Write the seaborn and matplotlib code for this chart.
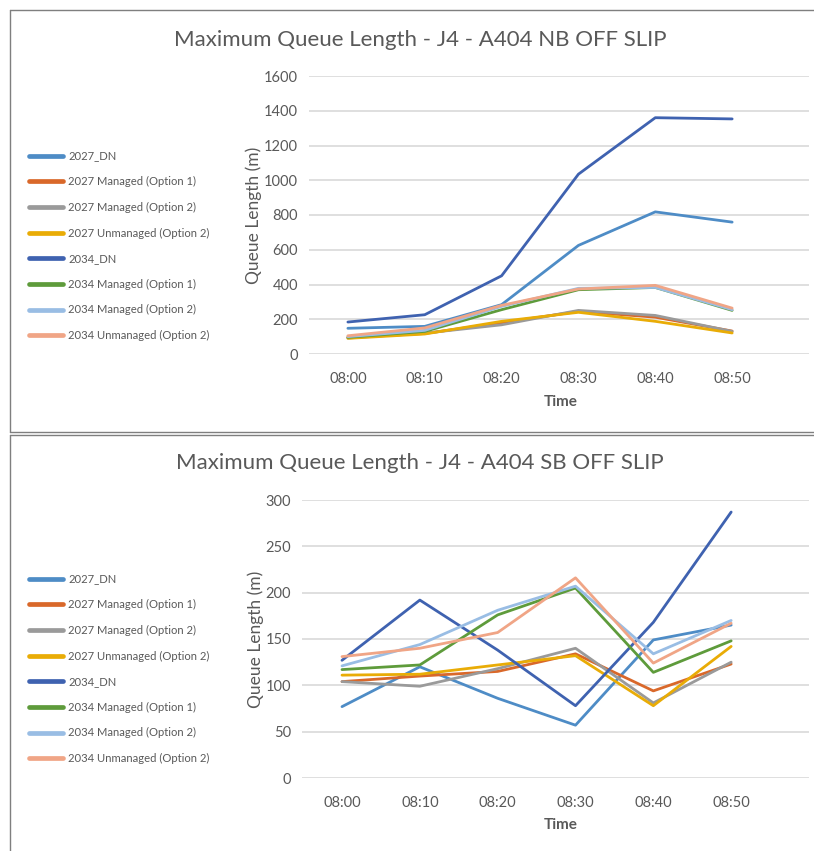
import matplotlib
matplotlib.use("Agg")
import matplotlib.pyplot as plt
from matplotlib.lines import Line2D
import seaborn as sns
import pandas as pd

# ---- data ----
times = ["08:00", "08:10", "08:20", "08:30", "08:40", "08:50"]
series_names = [
    "2027_DN",
    "2027 Managed (Option 1)",
    "2027 Managed (Option 2)",
    "2027 Unmanaged (Option 2)",
    "2034_DN",
    "2034 Managed (Option 1)",
    "2034 Managed (Option 2)",
    "2034 Unmanaged (Option 2)",
]

# NB off slip
nb_2027_dn = [148, 159, 284, 625, 818, 759]
nb_2027_m1 = [95, 118, 180, 245, 212, 132]
nb_2027_m2 = [92, 120, 168, 251, 222, 130]
nb_2027_um2 = [90, 115, 188, 240, 188, 121]
nb_2034_dn = [184, 226, 450, 1035, 1360, 1353]
nb_2034_m1 = [96, 130, 255, 370, 383, 251]
nb_2034_m2 = [100, 136, 274, 378, 383, 255]
nb_2034_um2 = [105, 150, 280, 374, 395, 264]

# SB off slip
sb_2027_dn = [77, 120, 86, 57, 149, 165]
sb_2027_m1 = [104, 110, 115, 134, 94, 123]
sb_2027_m2 = [104, 99, 118, 140, 81, 125]
sb_2027_um2 = [111, 112, 122, 132, 78, 142]
sb_2034_dn = [127, 192, 138, 78, 168, 287]
sb_2034_m1 = [117, 122, 176, 205, 114, 148]
sb_2034_m2 = [121, 144, 181, 207, 134, 170]
sb_2034_um2 = [131, 140, 157, 216, 124, 167]

colors = ["#4E8CC6", "#D9682A", "#9A9A9A", "#E9AC06",
          "#3F62B0", "#5E9B3B", "#99BDE4", "#F0A586"]

nb_values = [nb_2027_dn, nb_2027_m1, nb_2027_m2, nb_2027_um2,
             nb_2034_dn, nb_2034_m1, nb_2034_m2, nb_2034_um2]
sb_values = [sb_2027_dn, sb_2027_m1, sb_2027_m2, sb_2027_um2,
             sb_2034_dn, sb_2034_m1, sb_2034_m2, sb_2034_um2]


def to_long(values):
    rows = []
    for name, vals in zip(series_names, values):
        for t, v in zip(times, vals):
            rows.append({"Time": t, "Series": name, "Queue": v})
    return pd.DataFrame(rows)


sns.set_theme(style="white")
plt.rcParams["font.family"] = ["Lato", "DejaVu Sans"]

W, H = 814, 851
fig = plt.figure(figsize=(W / 100, H / 100), dpi=100)

txt_col = "#595959"
grid_col = "#D9D9D9"


def px_axes(x0, x1, y_top, y_bot):
    return fig.add_axes([x0 / W, 1 - y_bot / H, (x1 - x0) / W, (y_bot - y_top) / H])


def draw_panel(ax, values, ymax, ystep, title, title_y, legend_top, xlim_left, xlabel_y):
    df = to_long(values)
    sns.lineplot(data=df, x="Time", y="Queue", hue="Series",
                 hue_order=series_names, palette=colors, sort=False,
                 linewidth=2.0, ax=ax, legend=False)
    ax.set_xlim(xlim_left, 6.0)
    ax.set_ylim(0, ymax)
    ax.set_yticks(range(0, ymax + 1, ystep))
    ax.set_xticks(range(len(times)))
    ax.set_xticklabels(times)
    ax.yaxis.grid(True, color=grid_col, linewidth=1.2)
    ax.set_axisbelow(True)
    for s in ax.spines.values():
        s.set_visible(False)
    ax.tick_params(axis="both", length=0, labelsize=10.5, labelcolor=txt_col)
    ax.tick_params(axis="x", pad=13)
    ax.tick_params(axis="y", pad=8)
    ax.set_xlabel("")
    ax.set_ylabel("Queue Length (m)", fontsize=12.5, color=txt_col, labelpad=1)
    fig.text(561 / W, 1 - xlabel_y / H, "Time", ha="center", va="center",
             fontsize=11, color=txt_col, fontweight="bold")
    fig.text(420 / W, 1 - title_y / H, title, ha="center", va="center",
             fontsize=16, color=txt_col)
    handles = [Line2D([0], [0], color=c, linewidth=3.4) for c in colors]
    fig.legend(handles, series_names, loc="upper left",
               bbox_to_anchor=(24 / W, 1 - legend_top / H), frameon=False,
               fontsize=8.1, labelcolor=txt_col, handlelength=3.1,
               handletextpad=0.45, labelspacing=1.3, borderaxespad=0)


ax1 = px_axes(309, 809, 76, 354)
draw_panel(ax1, nb_values, 1600, 200, "Maximum Queue Length - J4 - A404 NB OFF SLIP",
           40, 146, -0.506, 402)

ax2 = px_axes(302, 809, 500, 778)
draw_panel(ax2, sb_values, 300, 50, "Maximum Queue Length - J4 - A404 SB OFF SLIP",
           463, 569, -0.514, 825)

# chart frames
border = "#7F7F7F"
def fline(x0, y0, x1, y1):
    fig.add_artist(Line2D([x0 / W, x1 / W], [1 - y0 / H, 1 - y1 / H],
                          color=border, linewidth=1.0))

fline(10, 10, W, 10)
fline(10, 10, 10, 432)
fline(10, 432, W, 432)
fline(10, 435, W, 435)
fline(10, 435, 10, H)

fig.savefig("out.png", dpi=100)
